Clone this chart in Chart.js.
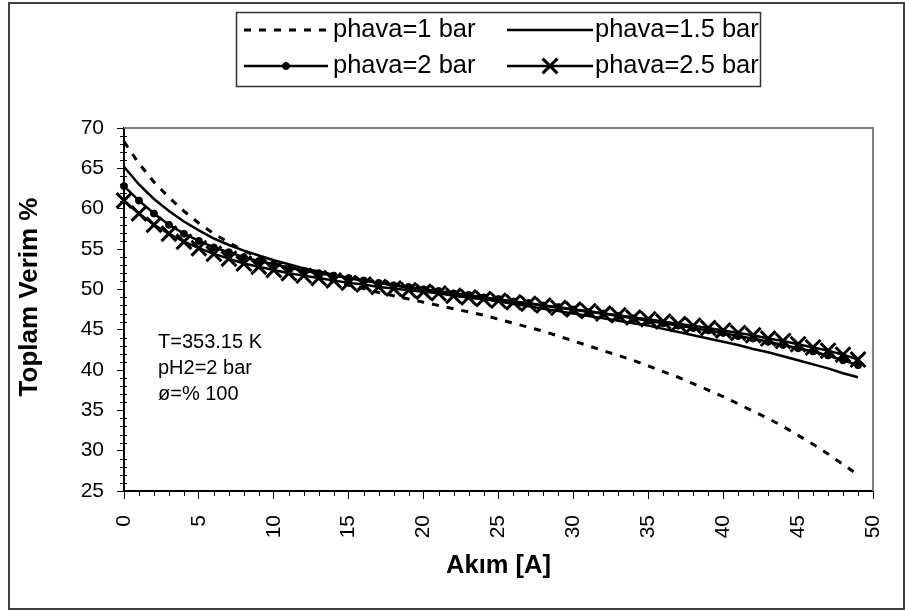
<!DOCTYPE html>
<html>
<head>
<meta charset="utf-8">
<script src="https://cdn.jsdelivr.net/npm/chart.js@4"></script>
<style>
html, body { margin: 0; padding: 0; background: #fff; }
</style>
</head>
<body>
<canvas id="verimChart" width="905" height="612"></canvas>
<script>
// Akim [A] values (x), one per point
var akim = [0, 1, 2, 3, 4, 5, 6, 7, 8, 9,
    10, 11, 12, 13, 14, 15, 16, 17, 18, 19,
    20, 21, 22, 23, 24, 25, 26, 27, 28, 29,
    30, 31, 32, 33, 34, 35, 36, 37, 38, 39,
    40, 41, 42, 43, 44, 45, 46, 47, 48, 49];

// Toplam verim % for each hava pressure
var verim1 = [68.3, 65.6, 63.3, 61.4, 59.7, 58.2, 56.9, 55.8, 54.8, 54.0,
    53.2, 52.6, 52.0, 51.5, 51.0, 50.5, 50.1, 49.6, 49.2, 48.8,
    48.4, 48.0, 47.6, 47.2, 46.8, 46.3, 45.8, 45.3, 44.8, 44.2,
    43.6, 43.0, 42.4, 41.8, 41.2, 40.5, 39.8, 39.1, 38.3, 37.5,
    36.7, 35.8, 34.9, 34.0, 33.0, 31.9, 30.8, 29.6, 28.3, 27.0];
var verim15 = [65.2, 63.0, 61.2, 59.7, 58.4, 57.3, 56.3, 55.5, 54.8, 54.2,
    53.6, 53.1, 52.6, 52.2, 51.8, 51.4, 51.1, 50.8, 50.5, 50.2,
    49.9, 49.6, 49.3, 49.0, 48.8, 48.5, 48.2, 47.9, 47.6, 47.3,
    47.0, 46.7, 46.4, 46.1, 45.8, 45.5, 45.1, 44.7, 44.3, 43.9,
    43.5, 43.1, 42.6, 42.2, 41.7, 41.2, 40.7, 40.2, 39.6, 39.1];
var verim2 = [62.8, 61.0, 59.4, 58.0, 56.9, 56.0, 55.2, 54.6, 54.0, 53.5,
    53.1, 52.7, 52.3, 52.0, 51.7, 51.4, 51.1, 50.8, 50.5, 50.3,
    50.0, 49.8, 49.5, 49.3, 49.0, 48.8, 48.5, 48.3, 48.0, 47.8,
    47.5, 47.2, 47.0, 46.7, 46.4, 46.1, 45.8, 45.5, 45.2, 44.9,
    44.6, 44.2, 43.9, 43.5, 43.1, 42.7, 42.3, 41.8, 41.2, 40.6];
var verim25 = [61.0, 59.4, 58.0, 56.9, 55.9, 55.1, 54.4, 53.8, 53.2, 52.8,
    52.4, 52.0, 51.7, 51.4, 51.1, 50.8, 50.6, 50.3, 50.1, 49.9,
    49.7, 49.5, 49.2, 49.0, 48.8, 48.6, 48.4, 48.2, 48.0, 47.7,
    47.5, 47.3, 47.0, 46.8, 46.5, 46.3, 46.0, 45.7, 45.5, 45.2,
    44.9, 44.6, 44.3, 43.9, 43.6, 43.2, 42.8, 42.4, 41.9, 41.3];

var seriesNames = ['phava=1 bar', 'phava=1.5 bar', 'phava=2 bar', 'phava=2.5 bar'];
var notes = ['T=353.15 K', 'pH2=2 bar', 'ø=% 100'];
var yTitle = 'Toplam Verim %';
var xTitle = 'Akım [A]';

var FONT = "'Liberation Sans', Arial, sans-serif";

function points(ys) {
    return akim.map(function (x, i) { return { x: x, y: ys[i] }; });
}

// draws frame, minor ticks, y title, text box, legend and outer border
var extras = {
    id: 'extras',
    beforeDraw: function (chart) {
        var ctx = chart.ctx;
        ctx.save();
        ctx.fillStyle = '#fff';
        ctx.fillRect(0, 0, chart.width, chart.height);
        ctx.restore();
    },
    afterDraw: function (chart) {
        var ctx = chart.ctx;
        var a = chart.chartArea;
        var xs = chart.scales.x, ys = chart.scales.y;
        var i, p;
        ctx.save();

        // gray top / right edge of the plot area
        ctx.strokeStyle = '#808080';
        ctx.lineWidth = 2;
        ctx.beginPath();
        ctx.moveTo(a.left, a.top);
        ctx.lineTo(a.right, a.top);
        ctx.lineTo(a.right, a.bottom);
        ctx.stroke();

        // minor ticks
        ctx.strokeStyle = '#000';
        ctx.lineWidth = 1;
        ctx.beginPath();
        for (i = 0; i <= 50; i++) {
            if (i % 5 === 0) continue;
            p = Math.round(xs.getPixelForValue(i)) + 0.5;
            ctx.moveTo(p, a.bottom);
            ctx.lineTo(p, a.bottom + 5);
        }
        for (i = 25; i <= 70; i++) {
            if (i % 5 === 0) continue;
            p = Math.round(ys.getPixelForValue(i)) + 0.5;
            ctx.moveTo(a.left - 4, p);
            ctx.lineTo(a.left + 3, p);
        }
        ctx.stroke();

        // y axis title
        ctx.save();
        ctx.translate(30, 297);
        ctx.rotate(-Math.PI / 2);
        ctx.fillStyle = '#000';
        ctx.font = 'bold 26px ' + FONT;
        ctx.textAlign = 'center';
        ctx.textBaseline = 'middle';
        ctx.fillText(yTitle, 0, 0);
        ctx.restore();

        // text box
        ctx.fillStyle = '#000';
        ctx.font = '20px ' + FONT;
        ctx.textBaseline = 'middle';
        ctx.textAlign = 'left';
        for (i = 0; i < notes.length; i++) {
            ctx.fillText(notes[i], a.left + 34, 342 + i * 26);
        }

        // legend
        ctx.strokeStyle = '#333';
        ctx.lineWidth = 1.5;
        ctx.strokeRect(236.5, 12.5, 524, 74);
        var cols = [{ x0: 244, x1: 328, tx: 333 }, { x0: 507, x1: 593, tx: 595 }];
        var rows = [30, 66];
        ctx.font = '25.5px ' + FONT;
        chart.data.datasets.forEach(function (ds, k) {
            var c = cols[k % 2], y = rows[Math.floor(k / 2)];
            ctx.save();
            ctx.strokeStyle = '#000';
            ctx.lineWidth = ds.borderWidth;
            ctx.setLineDash(ds.borderDash || []);
            ctx.beginPath();
            ctx.moveTo(c.x0, y);
            ctx.lineTo(c.x1, y);
            ctx.stroke();
            ctx.restore();
            if (ds.pointRadius > 0) {
                ctx.save();
                ctx.strokeStyle = '#000';
                ctx.fillStyle = '#000';
                ctx.lineWidth = ds.pointBorderWidth;
                Chart.helpers.drawPoint(ctx, {
                    pointStyle: ds.pointStyle,
                    radius: ds.pointRadius,
                    borderWidth: ds.pointBorderWidth
                }, (c.x0 + c.x1) / 2, y);
                ctx.restore();
            }
            ctx.fillStyle = '#000';
            ctx.fillText(ds.label, c.tx, y);
        });

        // outer border
        ctx.strokeStyle = '#404040';
        ctx.lineWidth = 2;
        ctx.strokeRect(9, 3, 895, 606);
        ctx.restore();
    }
};

new Chart(document.getElementById('verimChart'), {
    type: 'line',
    data: {
        datasets: [{
            label: seriesNames[0],
            data: points(verim1),
            borderColor: '#000',
            borderWidth: 3,
            borderDash: [7, 8],
            pointRadius: 0,
            tension: 0,
            clip: false
        }, {
            label: seriesNames[1],
            data: points(verim15),
            borderColor: '#000',
            borderWidth: 2.5,
            pointRadius: 0,
            tension: 0,
            clip: false
        }, {
            label: seriesNames[2],
            data: points(verim2),
            borderColor: '#000',
            backgroundColor: '#000',
            pointBackgroundColor: '#000',
            pointBorderColor: '#000',
            borderWidth: 2.5,
            pointStyle: 'circle',
            pointRadius: 3.5,
            pointBorderWidth: 1,
            tension: 0,
            clip: false
        }, {
            label: seriesNames[3],
            data: points(verim25),
            borderColor: '#000',
            pointBorderColor: '#000',
            borderWidth: 2.5,
            pointStyle: 'crossRot',
            pointRadius: 10.5,
            pointBorderWidth: 3,
            tension: 0,
            clip: false
        }]
    },
    options: {
        responsive: false,
        animation: false,
        devicePixelRatio: 1,
        layout: {
            padding: { left: 0, right: 32, top: 128, bottom: 0 }
        },
        plugins: {
            legend: { display: false },
            tooltip: { enabled: false }
        },
        scales: {
            x: {
                type: 'linear',
                min: 0,
                max: 50,
                afterFit: function (s) {
                    s.height = 121;
                    s.paddingLeft = 0;
                    s.paddingRight = 0;
                },
                border: { display: true, color: '#000', width: 2 },
                grid: { display: true, drawOnChartArea: false, drawTicks: true, tickLength: 8, color: '#000', lineWidth: 1 },
                ticks: {
                    stepSize: 5,
                    autoSkip: false,
                    minRotation: 90,
                    maxRotation: 90,
                    padding: 16,
                    color: '#000',
                    font: { family: FONT, size: 21 }
                },
                title: {
                    display: true,
                    text: xTitle,
                    color: '#000',
                    font: { family: FONT, size: 25.5, weight: 'bold' },
                    padding: { top: 0, bottom: 31 }
                }
            },
            y: {
                min: 25,
                max: 70,
                afterFit: function (s) {
                    s.width = 124;
                    s.paddingTop = 0;
                    s.paddingBottom = 0;
                },
                border: { display: true, color: '#000', width: 2 },
                grid: { display: true, drawOnChartArea: false, drawTicks: true, tickLength: 7, color: '#000', lineWidth: 1 },
                ticks: {
                    stepSize: 5,
                    padding: 13,
                    color: '#000',
                    font: { family: FONT, size: 21 }
                }
            }
        }
    },
    plugins: [extras]
});
</script>
</body>
</html>
